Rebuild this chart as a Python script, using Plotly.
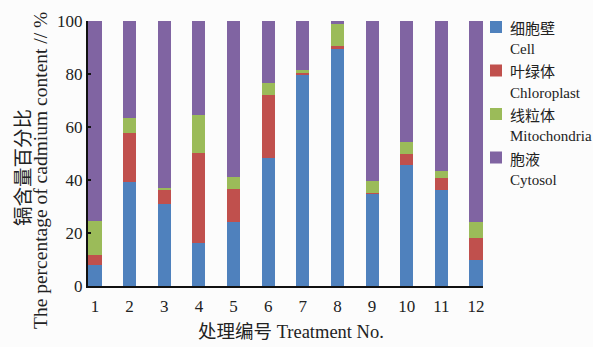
import plotly.graph_objects as go

# Treatment numbers and the share (%) of cadmium found in each cell fraction
treatments = [1, 2, 3, 4, 5, 6, 7, 8, 9, 10, 11, 12]
tick_labels = ["1", "2", "3", "4", "5", "6", "7", "8", "9", "10", "11", "12"]
cell_wall = [7.8, 39.2, 30.9, 16.4, 24.2, 48.4, 79.5, 89.6, 34.8, 45.7, 36.1, 9.9]
chloroplast = [3.8, 18.4, 5.5, 33.8, 12.5, 23.5, 0.9, 0.8, 0.4, 4.2, 4.7, 8.2]
mitochondria = [12.8, 5.9, 0.6, 14.2, 4.3, 4.7, 1.0, 8.3, 4.3, 4.4, 2.6, 5.9]
cytosol = [75.6, 36.5, 63.0, 35.6, 59.0, 23.4, 18.6, 1.3, 60.5, 45.7, 56.6, 76.0]

names_cn = ["细胞壁", "叶绿体", "线粒体", "胞液"]
names_en = ["Cell", "Chloroplast", "Mitochondria", "Cytosol"]
y_ticks = [0, 20, 40, 60, 80, 100]

colors = ["#4f81bd", "#c0504d", "#9bbb59", "#8064a2"]
series = [cell_wall, chloroplast, mitochondria, cytosol]

W, H = 593, 347
ML, MR, MT, MB = 88, 110, 21, 61
PW, PH = W - ML - MR, H - MT - MB


def px_x(px):
    return (px - ML) / PW


def px_y(py):
    return (H - MB - py) / PH


SERIF = "Liberation Serif, Times New Roman, serif"
CJK = "Noto Sans CJK SC"
MIXED = "Liberation Serif, Noto Sans CJK SC, serif"

fig = go.Figure()
for vals, cn, en, col in zip(series, names_cn, names_en, colors):
    fig.add_trace(go.Bar(
        x=treatments, y=vals, name=f"{cn} {en}",
        marker=dict(color=col, line=dict(width=0)),
        width=0.38, showlegend=False,
    ))

# hand-placed legend: swatch, Chinese name, English name below it
shapes = []
annotations = []
for i, (cn, en, col) in enumerate(zip(names_cn, names_en, colors)):
    top = 21 + 43.5 * i
    shapes.append(dict(
        type="rect", xref="paper", yref="paper",
        x0=px_x(490), x1=px_x(502), y0=px_y(top + 12), y1=px_y(top),
        fillcolor=col, line=dict(width=0),
    ))
    annotations.append(dict(
        text=cn, xref="paper", yref="paper", x=px_x(508), y=px_y(top + 6.5),
        xanchor="left", yanchor="middle", showarrow=False,
        font=dict(family=CJK, size=15, color="#222"),
    ))
    annotations.append(dict(
        text=en, xref="paper", yref="paper", x=px_x(508), y=px_y(top + 28),
        xanchor="left", yanchor="middle", showarrow=False,
        font=dict(family=SERIF, size=15, color="#222"),
    ))

# axis titles
annotations.append(dict(
    text="镉含量百分比", xref="paper", yref="paper", x=px_x(21), y=px_y(168),
    xanchor="center", yanchor="middle", textangle=-90, showarrow=False,
    font=dict(family=CJK, size=19.5, color="#222"),
))
annotations.append(dict(
    text="The percentage of cadmium content // %", xref="paper", yref="paper",
    x=px_x(40), y=px_y(171), xanchor="center", yanchor="middle", textangle=-90,
    showarrow=False, font=dict(family=SERIF, size=19.5, color="#222"),
))
annotations.append(dict(
    text="处理编号 Treatment No.", xref="paper", yref="paper",
    x=px_x(291), y=px_y(332), xanchor="center", yanchor="middle",
    showarrow=False, font=dict(family=MIXED, size=18.5, color="#222"),
))

fig.update_layout(
    width=W, height=H, autosize=False,
    margin=dict(l=ML, r=MR, t=MT, b=MB, pad=0),
    barmode="stack", bargap=0,
    paper_bgcolor="#fcfcfc", plot_bgcolor="#fcfcfc",
    shapes=shapes, annotations=annotations,
    xaxis=dict(
        range=[0.8, 12.2], tickmode="array", tickvals=treatments, ticktext=tick_labels,
        showgrid=False, zeroline=False, showline=True, linecolor="#111", linewidth=2,
        ticks="", ticklabelstandoff=4,
        tickfont=dict(family=SERIF, size=17, color="#222"),
    ),
    yaxis=dict(
        range=[0, 100], tickmode="array", tickvals=y_ticks,
        showgrid=False, zeroline=False, showline=True, linecolor="#111", linewidth=2,
        ticks="inside", ticklen=3, tickwidth=1.5, tickcolor="#111",
        tickfont=dict(family=SERIF, size=17, color="#222"),
    ),
)

fig.write_html("out.html")
